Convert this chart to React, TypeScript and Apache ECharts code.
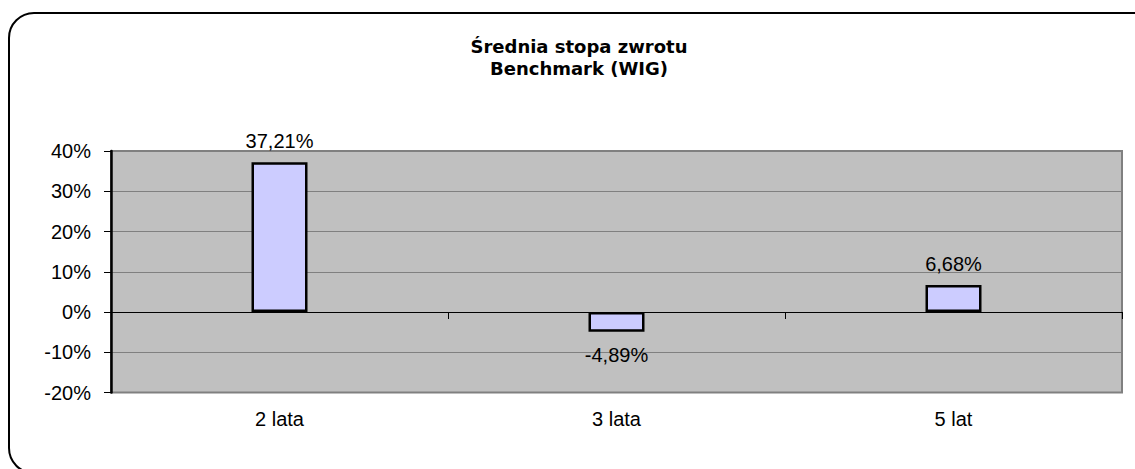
import React, { useEffect, useRef } from "react";
import * as echarts from "echarts";

const titleLines = ["Średnia stopa zwrotu", "Benchmark (WIG)"];
const categories = ["2 lata", "3 lata", "5 lat"];
const values = [37.21, -4.89, 6.68];
const yMin = -20;
const yMax = 40;
const yInterval = 10;

const fmtPct = (v: number) => v.toFixed(2).replace(".", ",") + "%";

export default function App() {
  const ref = useRef<HTMLDivElement>(null);
  useEffect(() => {
    if (!ref.current) return;
    const chart = echarts.init(ref.current, undefined, { renderer: "svg" });
    const labelFont = "Liberation Sans, Arial, sans-serif";
    chart.setOption({
      animation: false,
      backgroundColor: "#ffffff",
      title: {
        text: titleLines.join("\n"),
        left: 574,
        textAlign: "center",
        top: 30,
        textStyle: {
          fontFamily: "DejaVu Sans",
          fontWeight: "bold",
          fontSize: 18,
          lineHeight: 22,
          color: "#000",
        },
      },
      graphic: [
        {
          type: "rect",
          shape: { x: 9, y: 13, width: 1160, height: 460, r: 25 },
          style: { fill: "none", stroke: "#000", lineWidth: 2 },
          silent: true,
          z: 10,
        },
      ],
      grid: {
        left: 111,
        right: 13,
        top: 151,
        bottom: 76.5,
        show: true,
        backgroundColor: "#C0C0C0",
        borderColor: "#808080",
        borderWidth: 2,
      },
      xAxis: [
        {
          type: "category",
          data: categories,
          position: "bottom",
          axisLine: { show: true, onZero: true, lineStyle: { color: "#000", width: 1 } },
          axisTick: { show: true, length: 7, lineStyle: { color: "#000", width: 1 } },
          axisLabel: { show: false },
          splitLine: { show: false },
          z: 5,
        },
        {
          type: "category",
          data: categories,
          position: "bottom",
          axisLine: { show: false, onZero: false },
          axisTick: { show: false },
          axisLabel: {
            show: true,
            margin: 16,
            fontFamily: labelFont,
            fontSize: 20,
            color: "#000",
          },
          splitLine: { show: false },
        },
      ],
      yAxis: {
        type: "value",
        min: yMin,
        max: yMax,
        interval: yInterval,
        axisLine: { show: true, lineStyle: { color: "#000", width: 2.5 } },
        axisTick: { show: true, length: 7, lineStyle: { color: "#000", width: 1 } },
        axisLabel: {
          formatter: "{value}%",
          margin: 20,
          fontFamily: labelFont,
          fontSize: 20,
          color: "#000",
        },
        splitLine: { show: true, lineStyle: { color: "#808080", width: 1 } },
      },
      series: [
        {
          type: "bar",
          xAxisIndex: 0,
          data: values.map((v) => ({
            value: v,
            label: { position: v < 0 ? "bottom" : "top", distance: v < 0 ? 13 : 11 },
          })),
          barWidth: 56,
          itemStyle: { color: "#CCCCFF", borderColor: "#000", borderWidth: 2.5 },
          label: {
            show: true,
            distance: 10,
            formatter: (p: any) => fmtPct(p.value),
            fontFamily: labelFont,
            fontSize: 20,
            color: "#000",
          },
          z: 3,
        },
      ],
    });
    return () => chart.dispose();
  }, []);
  return (
    <div
      ref={ref}
      style={{ position: "absolute", left: 0, top: 0, width: 1135, height: 469 }}
    />
  );
}
